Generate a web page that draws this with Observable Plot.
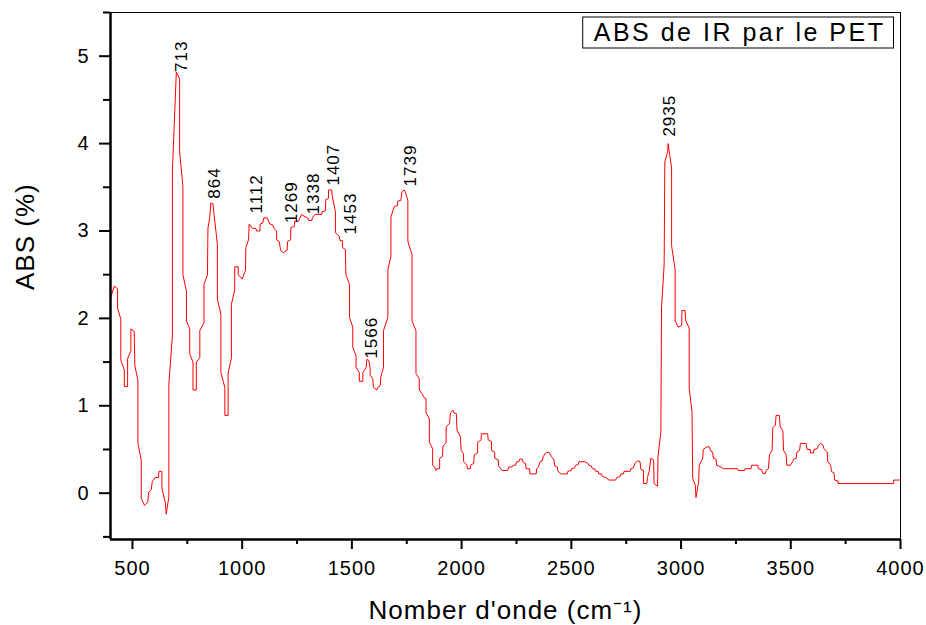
<!DOCTYPE html>
<html>
<head>
<meta charset="utf-8">
<script src="https://cdn.jsdelivr.net/npm/d3@7"></script>
<script src="https://cdn.jsdelivr.net/npm/@observablehq/plot@0.6"></script>
<style>
  html, body { margin: 0; padding: 0; background: white; }
</style>
</head>
<body>
<div id="chart"></div>
<script>
// ---- data ----
const wavenumber = [400,406,417,432,432,447,447,463,463,478,478,493,493,508,511,525,525,540,540,555,570,574,586,590,604,619,621,634,634,650,654,666,666,682,682,700,715,715,730,730,746,746,761,761,776,776,791,791,807,807,826,826,842,844,852,857,867,871,887,887,903,903,921,921,936,936,951,951,966,966,982,982,1000,1015,1017,1029,1032,1047,1062,1066,1081,1082,1093,1099,1114,1126,1139,1145,1157,1157,1169,1175,1187,1205,1207,1221,1222,1237,1239,1256,1271,1282,1299,1303,1317,1320,1332,1363,1364,1379,1381,1393,1394,1408,1410,1425,1425,1434,1442,1446,1457,1457,1470,1473,1489,1489,1504,1504,1519,1519,1534,1534,1550,1550,1565,1568,1577,1583,1583,1595,1598,1614,1617,1629,1632,1644,1644,1664,1664,1678,1678,1693,1708,1708,1723,1728,1738,1743,1755,1755,1774,1774,1792,1792,1807,1807,1819,1827,1838,1838,1853,1853,1868,1868,1877,1883,1888,1900,1900,1913,1915,1929,1930,1945,1949,1961,1964,1976,1979,1994,1998,2009,2009,2025,2025,2040,2040,2055,2058,2073,2073,2089,2090,2119,2121,2136,2136,2151,2151,2167,2169,2185,2210,2215,2230,2235,2246,2250,2261,2265,2276,2281,2291,2294,2310,2311,2340,2342,2352,2357,2368,2372,2383,2398,2409,2421,2425,2436,2439,2454,2482,2484,2500,2501,2515,2520,2532,2535,2561,2576,2580,2591,2596,2606,2611,2622,2626,2637,2642,2657,2672,2702,2707,2722,2725,2738,2740,2768,2771,2783,2789,2802,2813,2817,2829,2829,2844,2847,2855,2862,2875,2877,2893,2895,2908,2911,2923,2926,2939,2941,2957,2957,2973,2973,2987,3003,3004,3018,3022,3037,3037,3050,3053,3065,3068,3080,3083,3099,3101,3117,3129,3136,3144,3147,3159,3162,3182,3193,3258,3261,3289,3292,3319,3322,3350,3352,3368,3372,3383,3388,3398,3403,3415,3418,3430,3433,3448,3452,3464,3467,3479,3482,3497,3510,3512,3525,3528,3540,3544,3570,3574,3589,3590,3604,3606,3621,3627,3636,3647,3651,3662,3666,3669,3682,3685,3697,3700,3715,3715,3969,3969,4000];
const absorbance = [2.22,2.28,2.37,2.34,2.12,1.99,1.52,1.41,1.22,1.22,1.54,1.63,1.88,1.85,1.46,1.29,0.57,0.38,-0.06,-0.14,-0.10,0.01,0.04,0.13,0.18,0.18,0.25,0.25,0.06,-0.11,-0.24,-0.04,1.25,1.80,3.68,4.82,4.74,3.91,3.51,2.50,2.31,1.97,1.88,1.59,1.50,1.18,1.18,1.50,1.55,1.86,1.95,2.39,2.50,3.03,3.15,3.32,3.31,3.21,2.85,2.22,2.05,1.38,1.21,0.89,0.89,1.37,1.55,2.16,2.33,2.59,2.59,2.50,2.45,2.55,2.81,2.90,3.08,3.03,3.03,3.00,3.00,3.08,3.09,3.15,3.15,3.08,3.07,3.03,3.00,2.90,2.88,2.78,2.75,2.78,2.88,2.90,3.04,3.05,3.11,3.11,3.19,3.17,3.15,3.12,3.12,3.15,3.19,3.19,3.22,3.23,3.36,3.37,3.47,3.47,3.41,3.22,2.98,2.96,2.94,2.89,2.89,2.81,2.79,2.50,2.39,2.01,1.90,1.67,1.57,1.44,1.38,1.28,1.28,1.38,1.44,1.53,1.52,1.44,1.35,1.31,1.21,1.18,1.21,1.23,1.33,1.44,1.86,2.01,2.56,2.71,3.16,3.28,3.29,3.34,3.35,3.45,3.47,3.45,3.35,2.88,2.73,1.97,1.86,1.37,1.31,1.18,1.14,1.10,1.08,0.92,0.85,0.58,0.51,0.32,0.30,0.26,0.28,0.28,0.40,0.42,0.54,0.57,0.76,0.80,0.92,0.95,0.92,0.91,0.72,0.65,0.49,0.45,0.36,0.32,0.28,0.28,0.32,0.34,0.44,0.46,0.58,0.61,0.68,0.68,0.61,0.59,0.49,0.47,0.40,0.38,0.31,0.26,0.26,0.30,0.30,0.32,0.32,0.36,0.36,0.39,0.39,0.35,0.34,0.28,0.28,0.22,0.22,0.28,0.31,0.36,0.37,0.42,0.46,0.47,0.42,0.38,0.31,0.30,0.25,0.22,0.22,0.25,0.26,0.28,0.29,0.32,0.33,0.36,0.36,0.34,0.32,0.31,0.28,0.28,0.25,0.25,0.22,0.22,0.19,0.18,0.15,0.15,0.18,0.19,0.22,0.22,0.25,0.25,0.28,0.29,0.34,0.37,0.36,0.27,0.26,0.11,0.11,0.18,0.25,0.40,0.38,0.11,0.08,0.42,0.70,2.12,2.62,3.79,3.91,4.00,3.72,2.83,2.56,1.97,1.90,1.92,2.09,2.09,1.97,1.89,1.20,0.93,0.17,0.09,-0.05,0.13,0.32,0.40,0.50,0.53,0.53,0.48,0.47,0.40,0.39,0.32,0.30,0.28,0.28,0.26,0.26,0.28,0.28,0.32,0.32,0.28,0.27,0.23,0.22,0.26,0.28,0.44,0.49,0.75,0.78,0.89,0.89,0.76,0.71,0.49,0.44,0.32,0.32,0.36,0.39,0.40,0.47,0.49,0.57,0.57,0.50,0.50,0.46,0.46,0.50,0.51,0.55,0.57,0.55,0.51,0.48,0.47,0.36,0.32,0.25,0.23,0.15,0.14,0.11,0.11,0.15,0.15];

const peakLabels = ["713","864","1112","1269","1338","1407","1453","1566","1739","2935"];
const peakLabelX = [724,875,1066,1225,1324,1416,1492,1591,1769,2946];
const peakLabelY = [4.82,3.37,3.20,3.09,3.19,3.52,2.96,1.54,3.51,4.08];

const xTicks = [500,1000,1500,2000,2500,3000,3500,4000];
const xMinorTicks = [750,1250,1750,2250,2750,3250,3750];
const yTicks = [0,1,2,3,4,5];
const yMinorTicks = [-0.5,0.5,1.5,2.5,3.5,4.5,5.5];

const xTitle = "Nomber d'onde (cm\u207B\u00B9)";
const yTitle = "ABS (%)";
const legendTitle = "ABS de IR par le PET";

// ---- build ----
const spectrum = wavenumber.map((x, i) => ({x, y: absorbance[i]}));
const labels = peakLabels.map((t, i) => ({t, x: peakLabelX[i], y: peakLabelY[i]}));
const xDomain = [400, 4000];
const yDomain = [-0.53, 5.5];
const fmt = d3.format("d");

const chart = Plot.plot({
  width: 926,
  height: 625,
  marginLeft: 110,
  marginRight: 26,
  marginTop: 12,
  marginBottom: 86,
  style: {fontFamily: "'Liberation Sans', Arial, sans-serif", background: "white", color: "black", letterSpacing: "1px"},
  x: {domain: xDomain, label: null},
  y: {domain: yDomain, label: null},
  marks: [
    Plot.frame({stroke: "black", strokeWidth: 1}),
    Plot.line(spectrum, {x: "x", y: "y", stroke: "#ff0000", strokeWidth: 1}),
    Plot.text(labels, {x: "x", y: "y", text: "t", rotate: -90, textAnchor: "start", fontSize: 17, fill: "black"}),
    Plot.axisX(xTicks, {tickSize: 10, strokeWidth: 2, tickPadding: 11, fontSize: 20, tickFormat: fmt, label: null}),
    Plot.axisX(xMinorTicks, {tickSize: 5, strokeWidth: 2, tickFormat: () => "", label: null}),
    Plot.axisY(yTicks, {tickSize: 11, strokeWidth: 2, tickPadding: 10, fontSize: 20, tickFormat: fmt, label: null}),
    Plot.axisY(yMinorTicks, {tickSize: 7, strokeWidth: 2, tickFormat: () => "", label: null}),
    Plot.ruleX([xDomain[0]], {stroke: "black", strokeWidth: 2.5}),
    Plot.ruleY([yDomain[0]], {stroke: "black", strokeWidth: 2.5}),
    Plot.text([xTitle], {frameAnchor: "bottom", lineAnchor: "middle", dy: 71, fontSize: 26, fill: "black"}),
    Plot.text([yTitle], {frameAnchor: "left", lineAnchor: "middle", dx: -85, dy: 14, rotate: -90, fontSize: 26, fill: "black"}),
    Plot.text([legendTitle], {frameAnchor: "top-right", lineAnchor: "middle", dx: -15, dy: 20.5, textAnchor: "end", fontSize: 25, fill: "black"})
  ]
});

document.getElementById("chart").appendChild(chart);

// legend box around the title text
const svg = d3.select(chart);
svg.selectAll("text").filter(function() { return this.textContent === legendTitle; })
  .style("letter-spacing", "2.5px")
  .each(function() {
    const bb = this.getBBox();
    const m = this.getCTM();
    const x0 = bb.x + (m ? m.e : 0);
    svg.append("rect")
      .attr("x", x0 - 11).attr("y", 17)
      .attr("width", bb.width + 19).attr("height", 31)
      .attr("fill", "none").attr("stroke", "black").attr("stroke-width", 1);
  });
</script>
</body>
</html>
